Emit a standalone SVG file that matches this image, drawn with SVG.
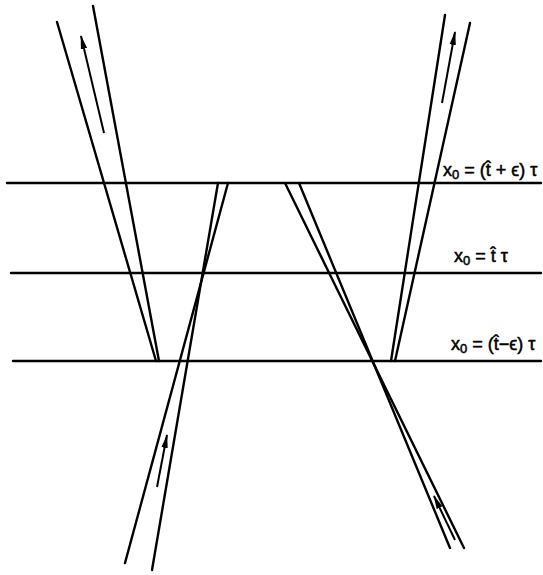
<svg xmlns="http://www.w3.org/2000/svg" width="543" height="575" viewBox="0 0 543 575">
<defs>
<style>
.ln{stroke:#000;stroke-width:2.4;fill:none;stroke-linecap:round}
.ar{stroke:#000;stroke-width:2;fill:none;marker-end:url(#ah)}
.lbl{font-family:"Liberation Sans","DejaVu Sans",sans-serif;font-size:18px;fill:#000;stroke:#000;stroke-width:0.5}
.sub{font-size:13px}
</style>
<marker id="ah" viewBox="0 0 14 7" refX="13" refY="3.5" markerWidth="14" markerHeight="7" markerUnits="userSpaceOnUse" orient="auto">
<path d="M0,0.3 L14,3.5 L0,6.7 Z" fill="#000"/>
</marker>
</defs>
<rect width="543" height="575" fill="#fff"/>
<g id="planes">
<line class="ln" x1="7" y1="183" x2="541" y2="183"/>
<line class="ln" x1="11" y1="273" x2="541" y2="273"/>
<line class="ln" x1="13" y1="361" x2="541" y2="361"/>
</g>
<g id="beam-left-out">
<line class="ln" x1="57" y1="22" x2="156" y2="361"/>
<line class="ln" x1="93" y1="6" x2="159" y2="361"/>
<line class="ar" x1="104" y1="133" x2="81" y2="36"/>
</g>
<g id="beam-right-out">
<line class="ln" x1="445" y1="15" x2="391" y2="361"/>
<line class="ln" x1="470" y1="23" x2="395" y2="361"/>
<line class="ar" x1="442" y1="103" x2="455" y2="32"/>
</g>
<g id="beam-left-in">
<line class="ln" x1="228" y1="183" x2="125" y2="563"/>
<line class="ln" x1="218" y1="183" x2="152" y2="570"/>
<line class="ar" x1="157" y1="487" x2="167" y2="435"/>
</g>
<g id="beam-right-in">
<line class="ln" x1="285" y1="183" x2="464" y2="548"/>
<line class="ln" x1="299" y1="183" x2="450" y2="548"/>
<line class="ar" x1="455" y1="540" x2="434" y2="496"/>
</g>
<g id="labels">
<text class="lbl" x="443" y="176">x<tspan class="sub" dy="3">0</tspan><tspan dy="-3"> = (t̂ + ϵ) τ</tspan></text>
<text class="lbl" x="454" y="262">x<tspan class="sub" dy="3">0</tspan><tspan dy="-3"> = t̂ τ</tspan></text>
<text class="lbl" x="451" y="350">x<tspan class="sub" dy="3">0</tspan><tspan dy="-3"> = (t̂−ϵ) τ</tspan></text>
</g>
</svg>
